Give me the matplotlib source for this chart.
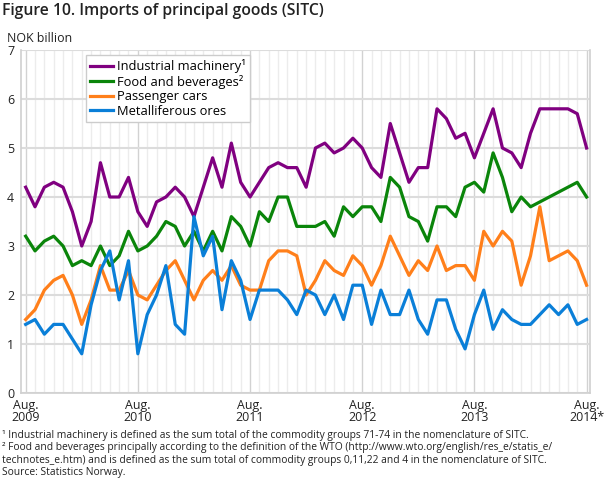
import numpy as np
import matplotlib
matplotlib.use("Agg")
import matplotlib.pyplot as plt

plt.rcParams['font.family'] = ['Open Sans', 'DejaVu Sans']

# monthly values, Aug 2009 - Aug 2014 (NOK billion)
machinery = [4.2, 3.8, 4.2, 4.3, 4.2, 3.7, 3.0, 3.5, 4.7, 4.0, 4.0, 4.4,
             3.7, 3.4, 3.9, 4.0, 4.2, 4.0, 3.6, 4.2, 4.8, 4.2, 5.1, 4.3,
             4.0, 4.3, 4.6, 4.7, 4.6, 4.6, 4.2, 5.0, 5.1, 4.9, 5.0, 5.2,
             5.0, 4.6, 4.4, 5.5, 4.9, 4.3, 4.6, 4.6, 5.8, 5.6, 5.2, 5.3,
             4.8, 5.3, 5.8, 5.0, 4.9, 4.6, 5.3, 5.8, 5.8, 5.8, 5.8, 5.7, 5.0]
food = [3.2, 2.9, 3.1, 3.2, 3.0, 2.6, 2.7, 2.6, 3.0, 2.6, 2.8, 3.3,
        2.9, 3.0, 3.2, 3.5, 3.4, 3.0, 3.3, 2.9, 3.3, 2.9, 3.6, 3.4,
        3.0, 3.7, 3.5, 4.0, 4.0, 3.4, 3.4, 3.4, 3.5, 3.2, 3.8, 3.6,
        3.8, 3.8, 3.5, 4.4, 4.2, 3.6, 3.5, 3.1, 3.8, 3.8, 3.6, 4.2,
        4.3, 4.1, 4.9, 4.4, 3.7, 4.0, 3.8, 3.9, 4.0, 4.1, 4.2, 4.3, 4.0]
cars = [1.5, 1.7, 2.1, 2.3, 2.4, 2.0, 1.4, 1.9, 2.6, 2.1, 2.1, 2.5,
        2.0, 1.9, 2.2, 2.5, 2.7, 2.3, 1.9, 2.3, 2.5, 2.3, 2.6, 2.2,
        2.1, 2.1, 2.7, 2.9, 2.9, 2.8, 2.0, 2.3, 2.7, 2.5, 2.4, 2.8,
        2.6, 2.2, 2.6, 3.2, 2.8, 2.4, 2.7, 2.5, 3.0, 2.5, 2.6, 2.6,
        2.3, 3.3, 3.0, 3.3, 3.1, 2.2, 2.8, 3.8, 2.7, 2.8, 2.9, 2.7, 2.2]
ores = [1.4, 1.5, 1.2, 1.4, 1.4, 1.1, 0.8, 1.8, 2.5, 2.9, 1.9, 2.7,
        0.8, 1.6, 2.0, 2.6, 1.4, 1.2, 3.6, 2.8, 3.2, 1.7, 2.7, 2.3,
        1.5, 2.1, 2.1, 2.1, 1.9, 1.6, 2.1, 2.0, 1.6, 2.0, 1.5, 2.2,
        2.2, 1.4, 2.1, 1.6, 1.6, 2.1, 1.5, 1.2, 1.9, 1.9, 1.3, 0.9,
        1.6, 2.1, 1.3, 1.7, 1.5, 1.4, 1.4, 1.6, 1.8, 1.6, 1.8, 1.4, 1.5]

xlabels = ['Aug.\n2009', 'Aug.\n2010', 'Aug.\n2011', 'Aug.\n2012', 'Aug.\n2013', 'Aug.\n2014*']

months = np.arange(len(machinery))

fig = plt.figure(figsize=(6.1, 4.88), dpi=100)
ax = fig.add_axes([0.0344, 0.1947, 0.9326, 0.7028])

ax.plot(months, machinery, color='#800080', lw=2.3, label='Industrial machinery\u00b9')
ax.plot(months, food, color='#0a850a', lw=2.3, label='Food and beverages\u00b2')
ax.plot(months, cars, color='#ff7f1a', lw=2.3, label='Passenger cars')
ax.plot(months, ores, color='#0a7fd8', lw=2.3, label='Metalliferous ores')

ax.set_xlim(-0.5, 60.35)
ax.set_ylim(0, 7)
ax.set_yticks(range(8))
ax.set_xticks(months[::12])
ax.set_xticklabels(xlabels, linespacing=0.95)
ax.set_xticks(months, minor=True)
ax.tick_params(which='both', length=0, labelsize=8.9, colors='#222222')
ax.tick_params(axis='y', pad=5)
ax.tick_params(axis='x', pad=4)

ax.grid(axis='y', color='#dcdcdc', lw=1.5)
ax.grid(axis='x', which='minor', color='#ececec', lw=1.0)
ax.grid(axis='x', which='major', color='#d2d2d2', lw=1.0)
ax.set_axisbelow(True)
ax.spines['top'].set_visible(False)
for s in ['left', 'right', 'bottom']:
    ax.spines[s].set_color('#d0d0d0')
    ax.spines[s].set_linewidth(1.2)

leg = ax.legend(loc='upper left', bbox_to_anchor=(0.114, 0.985), fontsize=9.3,
                handlelength=1.8, handletextpad=0.3, labelspacing=0.12,
                borderpad=0.3, borderaxespad=0, fancybox=False, framealpha=1)
leg.get_frame().set_edgecolor('#cccccc')
leg.get_frame().set_linewidth(1.0)

fig.text(0.004, 0.993, 'Figure 10. Imports of principal goods (SITC)', fontsize=11.3,
         fontweight='semibold', va='top', color='#222222')
fig.text(0.011, 0.922, 'NOK billion', fontsize=8.9, va='center', color='#222222')

notes = ('\u00b9 Industrial machinery is defined as the sum total of the commodity groups 71-74 in the nomenclature of SITC.\n'
         '\u00b2 Food and beverages principally according to the definition of the WTO (http://www.wto.org/english/res_e/statis_e/\n'
         'technotes_e.htm) and is defined as the sum total of commodity groups 0,11,22 and 4 in the nomenclature of SITC.\n'
         'Source: Statistics Norway.')
fig.text(0.004, 0.119, notes, fontsize=7.4, va='top', linespacing=1.17, color='#222222')

fig.savefig('out.png', dpi=100)
